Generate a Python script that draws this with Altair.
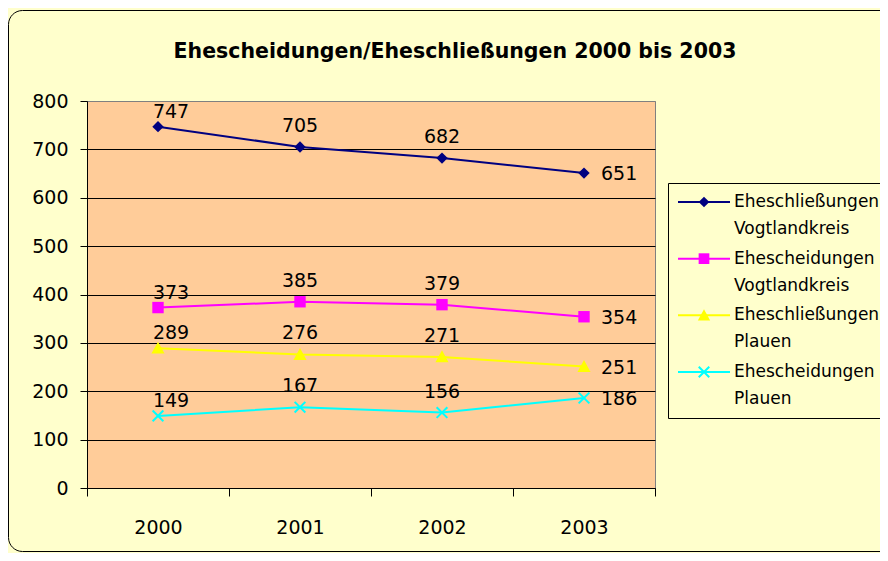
import altair as alt
import pandas as pd

# ---------------- data ----------------
years = ["2000", "2001", "2002", "2003"]
series_names = [
    "Eheschließungen Vogtlandkreis",
    "Ehescheidungen Vogtlandkreis",
    "Eheschließungen Plauen",
    "Ehescheidungen Plauen",
]
legend_labels = [
    "Eheschließungen\nVogtlandkreis",
    "Ehescheidungen\nVogtlandkreis",
    "Eheschließungen\nPlauen",
    "Ehescheidungen\nPlauen",
]
eheschliessungen_vogtland = [747, 705, 682, 651]
ehescheidungen_vogtland = [373, 385, 379, 354]
eheschliessungen_plauen = [289, 276, 271, 251]
ehescheidungen_plauen = [149, 167, 156, 186]
y_ticks = [0, 100, 200, 300, 400, 500, 600, 700, 800]
title_text = "Ehescheidungen/Eheschließungen 2000 bis 2003"

# ---------------- styles ----------------
colors = ["#000080", "#FF00FF", "#FFFF00", "#00FFFF"]
TRI_PATH = "M0,-1.15L1.15,0.95L-1.15,0.95Z"
filled_shapes = ["diamond", "square", TRI_PATH]
X_PATH = "M-1,-1L1,1M-1,1L1,-1"
FONT = "DejaVu Sans"
W, H = 568, 387

rows = []
for name, vals in zip(series_names, [eheschliessungen_vogtland, ehescheidungen_vogtland,
                                      eheschliessungen_plauen, ehescheidungen_plauen]):
    for yr, v in zip(years, vals):
        rows.append({"Jahr": yr, "Serie": name, "Anzahl": v})
df = pd.DataFrame(rows)
leg_df = pd.DataFrame({"Serie": series_names, "Beschriftung": legend_labels})
one = pd.DataFrame({"t": [title_text]})

x_enc = alt.X(
    "Jahr:O",
    sort=years,
    scale=alt.Scale(type="band", paddingInner=0, paddingOuter=0),
    axis=alt.Axis(title=None, labelAngle=0, tickBand="extent", grid=False,
                  domainColor="black", tickColor="black", tickSize=8,
                  labelFont=FONT, labelFontSize=19, labelColor="black", labelPadding=22),
)
y_enc = alt.Y(
    "Anzahl:Q",
    scale=alt.Scale(domain=[0, 800], nice=False),
    axis=alt.Axis(title=None, values=y_ticks, grid=True,
                  gridColor={"condition": {"test": "datum.value == 800", "value": "#808080"},
                             "value": "black"},
                  gridWidth=1,
                  domainColor="black", tickColor="black", tickSize=7,
                  labelFont=FONT, labelFontSize=19, labelColor="black", labelPadding=12),
)
color_enc = alt.Color("Serie:N", scale=alt.Scale(domain=series_names, range=colors), legend=None)
shape_enc = alt.Shape("Serie:N", scale=alt.Scale(domain=series_names[:3], range=filled_shapes), legend=None)

base = alt.Chart(df)
lines = base.mark_line(strokeWidth=2).encode(x=x_enc, y=y_enc, color=color_enc)
pts = base.transform_filter(
    alt.FieldOneOfPredicate(field="Serie", oneOf=series_names[:3])
).mark_point(filled=True, opacity=1, size=130).encode(x=x_enc, y=y_enc, color=color_enc, shape=shape_enc)
xpts = base.transform_filter(
    alt.FieldEqualPredicate(field="Serie", equal=series_names[3])
).mark_point(shape=X_PATH, filled=False, opacity=1, size=115, strokeWidth=2).encode(
    x=x_enc, y=y_enc, color=color_enc)

txt_style = dict(font=FONT, fontSize=19, color="black")
lab_first = base.transform_filter(alt.FieldEqualPredicate(field="Jahr", equal="2000")).mark_text(
    dx=13, dy=-15, **txt_style).encode(x=x_enc, y=y_enc, text="Anzahl:Q")
lab_mid = base.transform_filter(alt.FieldOneOfPredicate(field="Jahr", oneOf=["2001", "2002"])).mark_text(
    dy=-21, **txt_style).encode(x=x_enc, y=y_enc, text="Anzahl:Q")
lab_last = base.transform_filter(alt.FieldEqualPredicate(field="Jahr", equal="2003")).mark_text(
    align="left", dx=17, dy=1, **txt_style).encode(x=x_enc, y=y_enc, text="Anzahl:Q")

main = alt.layer(lines, pts, xpts, lab_first, lab_mid, lab_last)

# ---------------- frame, title, legend ----------------
frame = alt.Chart(one).mark_rect(fillOpacity=0, stroke="black", strokeWidth=1, cornerRadius=14).encode(
    x=alt.value(-78.5), x2=alt.value(840), y=alt.value(-90.5), y2=alt.value(450.5))
title = alt.Chart(one).mark_text(font=FONT, fontSize=20.5, fontWeight="bold", color="black",
                                 align="center", baseline="middle").encode(
    x=alt.value(368), y=alt.value(-49), text="t:N")

leg_y = alt.Y("Serie:N", sort=series_names,
              scale=alt.Scale(type="point", domain=series_names, range=[101, 271], padding=0), axis=None)
leg_box = alt.Chart(one).mark_rect(fill="#FFFFCC", stroke="black", strokeWidth=1).encode(
    x=alt.value(581.5), x2=alt.value(900), y=alt.value(82.5), y2=alt.value(317.5))
leg_base = alt.Chart(leg_df)
leg_rule = leg_base.mark_rule(strokeWidth=2).encode(
    x=alt.value(591), x2=alt.value(643), y=leg_y, color=color_enc)
leg_pts = leg_base.transform_filter(
    alt.FieldOneOfPredicate(field="Serie", oneOf=series_names[:3])
).mark_point(filled=True, opacity=1, size=115).encode(x=alt.value(617), y=leg_y, color=color_enc, shape=shape_enc)
leg_x = leg_base.transform_filter(
    alt.FieldEqualPredicate(field="Serie", equal=series_names[3])
).mark_point(shape=X_PATH, filled=False, opacity=1, size=110, strokeWidth=2).encode(
    x=alt.value(617), y=leg_y, color=color_enc)
leg_txt = leg_base.mark_text(font=FONT, fontSize=17, color="black", align="left", baseline="middle",
                             lineBreak="\n", lineHeight=27).encode(
    x=alt.value(647), y=leg_y, text="Beschriftung:N")

legend = alt.layer(frame, title, leg_box, leg_rule, leg_pts, leg_x, leg_txt)

chart = alt.layer(main, legend).resolve_scale(y="independent").properties(
    width=W, height=H,
    autosize=alt.AutoSizeParams(type="none"),
    padding={"left": 79, "top": 93, "right": 225, "bottom": 65},
    background="#FFFFCC",
).configure_view(fill="#FFCC99", stroke="#808080", strokeWidth=1)

chart.save("out.html", embed_options={"renderer": "svg", "actions": False})
